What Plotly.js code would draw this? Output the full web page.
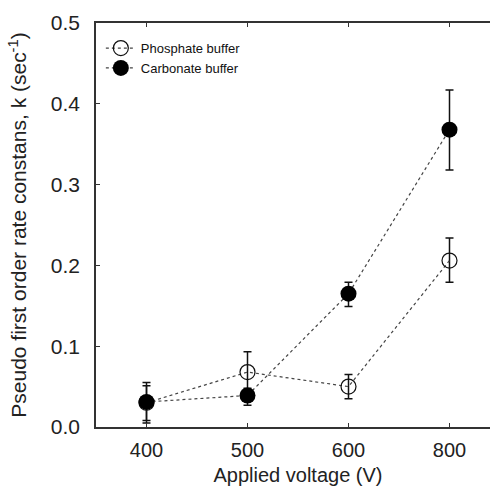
<!DOCTYPE html>
<html><head><meta charset="utf-8">
<script src="https://cdn.plot.ly/plotly-3.0.1.min.js"></script>
<style>html,body{margin:0;padding:0;overflow:hidden;background:#fff;width:490px;height:492px}</style>
</head><body><div id="chart"></div>
<script>
const voltages = ['400', '500', '600', '800'];
const phosphate = [0.030, 0.068, 0.050, 0.206];
const phosphateErrUp = [0.025, 0.025, 0.015, 0.028];
const phosphateErrDown = [0.025, 0.023, 0.015, 0.027];
const carbonate = [0.031, 0.039, 0.165, 0.368];
const carbonateErrUp = [0.020, 0.009, 0.014, 0.049];
const carbonateErrDown = [0.023, 0.012, 0.016, 0.050];
const yTicks = [0.0, 0.1, 0.2, 0.3, 0.4, 0.5];

const common = {
  type: 'scatter', mode: 'lines+markers',
  line: {color: '#444', width: 1.2, dash: 'dot'}
};
const traces = [
  Object.assign({}, common, {
    name: 'Phosphate buffer', x: voltages, y: phosphate,
    marker: {symbol: 'circle-open', size: 15, color: '#111', line: {width: 1.2, color: '#111'}},
    error_y: {type: 'data', symmetric: false, array: phosphateErrUp, arrayminus: phosphateErrDown, color: '#111', thickness: 1.5, width: 4}
  }),
  Object.assign({}, common, {
    name: 'Carbonate buffer', x: voltages, y: carbonate,
    marker: {symbol: 'circle', size: 16, color: '#000', line: {width: 0}},
    error_y: {type: 'data', symmetric: false, array: carbonateErrUp, arrayminus: carbonateErrDown, color: '#111', thickness: 1.5, width: 4}
  })
];
const fam = 'Liberation Sans, Arial, sans-serif';
const layout = {
  width: 510, height: 492,
  margin: {l: 96, r: 10, t: 23, b: 65},
  paper_bgcolor: '#fff', plot_bgcolor: '#fff',
  font: {family: fam, color: '#222', size: 20},
  showlegend: true,
  legend: {x: 0.012, y: 0.975, xanchor: 'left', yanchor: 'top', font: {family: fam, size: 13, color: '#111'}, bgcolor: 'rgba(0,0,0,0)', tracegroupgap: 0, itemwidth: 30},
  xaxis: {
    type: 'category', categoryorder: 'array', categoryarray: voltages,
    range: [-0.5, 3.5], showline: true, linecolor: '#333', linewidth: 1.8,
    mirror: 'ticks', ticks: 'inside', ticklen: 4, tickcolor: '#333', showgrid: false, zeroline: false,
    ticklabelstandoff: 4, tickfont: {family: fam, size: 20, color: '#222'},
    title: {text: 'Applied voltage (V)', font: {family: fam, size: 20, color: '#222'}, standoff: 8}
  },
  yaxis: {
    range: [0, 0.5], tickvals: yTicks, tickformat: '.1f',
    showline: true, linecolor: '#333', linewidth: 1.8, mirror: false,
    ticks: 'inside', ticklen: 4, tickcolor: '#333', showgrid: false, zeroline: false,
    ticklabelstandoff: 10, tickfont: {family: fam, size: 21, color: '#222'},
    title: {text: 'Pseudo first order rate constans, k (sec<sup>-1</sup>)', font: {family: fam, size: 21, color: '#222'}, standoff: 18}
  }
};
Plotly.newPlot('chart', traces, layout, {displayModeBar: false, staticPlot: true});
</script></body></html>
